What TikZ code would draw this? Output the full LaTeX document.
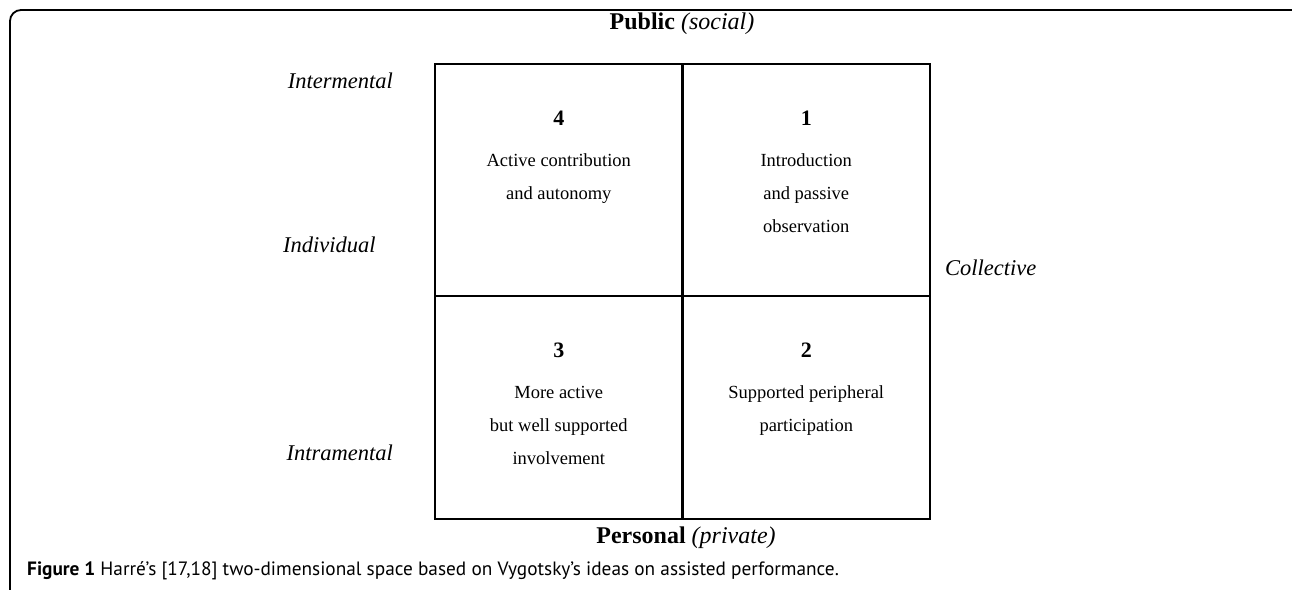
\documentclass[tikz,border=0pt]{standalone}
\usepackage{fontspec}
\setmainfont{Liberation Serif}
\newfontfamily\capfont{PT Sans}
\usetikzlibrary{positioning}
\newcommand\quadnum[1]{{\fontsize{22}{22}\selectfont\bfseries #1}}
\tikzset{
    cell/.style ={
        shape=rectangle,
        draw=black,
        line width=2.2pt,
        minimum width=247.5pt,
        inner sep=0pt
    },
    celltext/.style ={
        align=center,
        inner sep=0pt,
        font=\fontsize{18.5}{33}\selectfont
    },
    side/.style ={
        inner sep=0pt,
        font=\fontsize{22.5}{26}\selectfont\itshape
    },
    axis/.style ={
        inner sep=0pt,
        font=\fontsize{24}{28}\selectfont
    }
}

\begin{document}
\begin{tikzpicture}[x=1pt,y=-1pt]
    \useasboundingbox (0,0) rectangle (1292,589);
    \clip (0,0) rectangle (1292,589);
    \draw[line width=1.8pt, rounded corners=11pt] (10,10) rectangle (1310,620);
    % the four quadrants
    \node[cell, minimum height=232pt] (c4) at (558.75,180) {};
    \node[cell, minimum height=232pt] (c1) at (806.25,180) {};
    \node[cell, minimum height=223pt] (c3) at (558.75,407.5) {};
    \node[cell, minimum height=223pt] (c2) at (806.25,407.5) {};
    \node[celltext, below=48pt of c4.north] (t4) {\quadnum{4}\\[8pt]Active contribution\\and autonomy};
    \node[celltext, below=48pt of c1.north] (t1) {\quadnum{1}\\[8pt]Introduction\\and passive\\observation};
    \node[celltext, below=48pt of c3.north] (t3) {\quadnum{3}\\[8pt]More active\\but well supported\\involvement};
    \node[celltext, below=48pt of c2.north] (t2) {\quadnum{2}\\[8pt]Supported peripheral\\participation};
    % axis labels
    \node[axis] (pub) at (682,24) {\textbf{Public} \textit{(social)}};
    \node[axis] (pers) at (686,538) {\textbf{Personal} \textit{(private)}};
    \node[side, anchor=east] (inter) at (393,81) {Intermental};
    \node[side, anchor=west] (indiv) at (283,245) {Individual};
    \node[side, anchor=east] (intra) at (393,453) {Intramental};
    \node[side, anchor=west] (coll) at (945,268) {Collective};
    \node[anchor=west, inner sep=0pt, font=\capfont\fontsize{19.3}{22}\selectfont] (cap) at (27,571)
        {\textbf{Figure 1} Harré’s [17,18] two-dimensional space based on Vygotsky’s ideas on assisted performance.};
\end{tikzpicture}
\end{document}
